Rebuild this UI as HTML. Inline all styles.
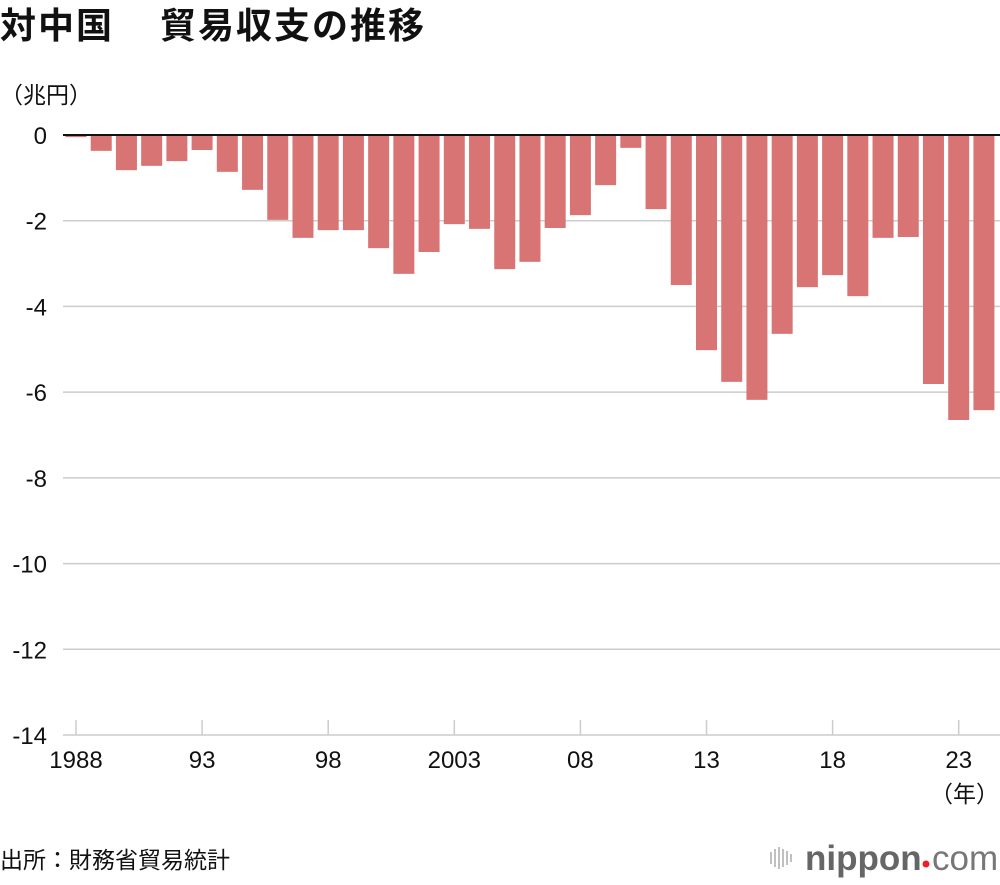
<!DOCTYPE html>
<html><head><meta charset="utf-8">
<style>
body{margin:0;background:#fff;width:1000px;height:880px;overflow:hidden;font-family:"Liberation Sans","Noto Sans CJK JP",sans-serif;}
svg text{font-family:"Liberation Sans","Noto Sans CJK JP",sans-serif;}
</style></head>
<body>
<svg id="chart" width="1000" height="880" xmlns="http://www.w3.org/2000/svg">
<text y="38" font-size="36" font-weight="bold" fill="#111" style="font-family:'Noto Sans CJK JP',sans-serif" letter-spacing="2"><tspan x="0">対中国</tspan><tspan x="160">貿易収支の推移</tspan></text>
<text x="0" y="103" font-size="23" fill="#111">（兆円）</text>
<text x="0" y="868" font-size="23" fill="#111">出所：財務省貿易統計</text>
<text x="999" y="802" font-size="23" fill="#111" text-anchor="end">（年）</text>
<g>
<g stroke="#aaa" stroke-width="1.5">
<line x1="771" y1="852" x2="771" y2="864"/><line x1="775" y1="849" x2="775" y2="867"/><line x1="779" y1="847" x2="779" y2="869"/><line x1="783" y1="849" x2="783" y2="867"/><line x1="787" y1="851" x2="787" y2="865"/><line x1="791" y1="854" x2="791" y2="862"/>
</g>
<text x="805" y="870" font-size="35" font-weight="bold" fill="#666">nippon</text>
<circle cx="926" cy="864" r="3.5" fill="#e8202a"/>
<text x="932" y="870" font-size="35" fill="#777">com</text>
</g>
<g id="grid"></g>
<g id="bars"></g>
<g id="axes"></g>
</svg>
<script>
const years = [];
for (let y = 1988; y <= 2024; y++) years.push(y);
const values = [-0.05,-0.37,-0.82,-0.72,-0.61,-0.35,-0.86,-1.28,-1.98,-2.40,-2.22,-2.22,-2.64,-3.24,-2.73,-2.08,-2.19,-3.13,-2.96,-2.17,-1.87,-1.17,-0.30,-1.73,-3.50,-5.02,-5.76,-6.18,-4.64,-3.55,-3.27,-3.76,-2.40,-2.38,-5.81,-6.65,-6.42];
const yTicks = [0,-2,-4,-6,-8,-10,-12,-14];
const xTickYears = [1988,1993,1998,2003,2008,2013,2018,2023];
const xTickLabels = ["1988","93","98","2003","08","13","18","23"];

const NS = "http://www.w3.org/2000/svg";
const yScale = v => 135 + (-v) * (600/14);
const xScale = yr => 76 + (yr - 1988) * 25.22;
const barW = 21;
const grid = document.getElementById('grid');
const bars = document.getElementById('bars');
const axes = document.getElementById('axes');
function mk(tag, attrs){const e=document.createElementNS(NS,tag);for(const k in attrs)e.setAttribute(k,attrs[k]);return e;}

yTicks.forEach(t => {
  const y = yScale(t);
  if (t !== 0 && t !== -14) {
    const l = mk('line',{x1:63,x2:1000,y1:y,y2:y,stroke:'#ccc','stroke-width':1.5});
    
    
    grid.appendChild(l);
  }
  const tx = mk('text',{x:47,y:y+9,'font-size':24,fill:'#111','text-anchor':'end'});
  tx.textContent = String(t);
  
  
  axes.appendChild(tx);
});

years.forEach((yr, i) => {
  const v = values[i];
  const y0 = yScale(0), y1 = yScale(v);
  const r = mk('rect',{x:xScale(yr)-barW/2,y:Math.min(y0,y1),width:barW,height:Math.abs(y1-y0),fill:'#d97474'});
  
  
  bars.appendChild(r);
});

const zl = mk('line',{x1:63,x2:1000,y1:yScale(0),y2:yScale(0),stroke:'#111','stroke-width':2});


axes.appendChild(zl);
const xa = mk('line',{x1:63,x2:1000,y1:735,y2:735,stroke:'#ccc','stroke-width':1.5});


axes.appendChild(xa);
xTickYears.forEach((yr, i) => {
  const x = xScale(yr);
  const tk = mk('line',{x1:x,x2:x,y1:720,y2:735,stroke:'#ccc','stroke-width':1.5});
  
  
  axes.appendChild(tk);
  const tx = mk('text',{x:x,y:768,'font-size':24,fill:'#111','text-anchor':'middle'});
  tx.textContent = xTickLabels[i];
  
  
  axes.appendChild(tx);
});
</script>
</body></html>
